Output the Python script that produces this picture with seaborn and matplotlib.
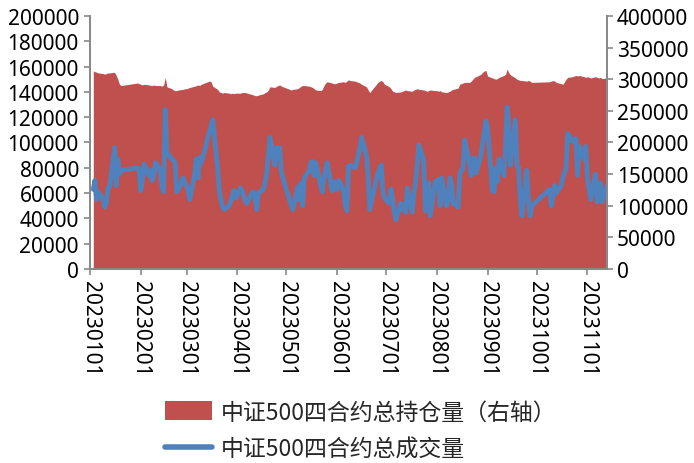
import pandas as pd
import matplotlib
matplotlib.use("Agg")
import matplotlib.pyplot as plt
from matplotlib.patches import Patch
from matplotlib.lines import Line2D
from matplotlib.ticker import MultipleLocator, StrMethodFormatter
import seaborn as sns

# Exchange holidays (weekdays with no trading) in the covered period
holidays = [
    "2023-01-02", "2023-01-23", "2023-01-24", "2023-01-25", "2023-01-26", "2023-01-27",
    "2023-04-05", "2023-05-01", "2023-05-02", "2023-05-03",
    "2023-06-22", "2023-06-23",
    "2023-09-29", "2023-10-02", "2023-10-03", "2023-10-04", "2023-10-05", "2023-10-06",
]
first_day, last_day = "2023-01-03", "2023-11-13"

# Daily total volume of the four CSI 500 futures contracts (left axis), one row per month
volume = [
    63000, 70000, 55000, 61000, 55000, 49000, 52000, 64000, 65000, 96000, 66000, 87000, 75000, 78000, 80000, 79000,
    62000, 70000, 83000, 74000, 78000, 70000, 74000, 84000, 78000, 65000, 61000, 126000, 92000, 87000, 86000, 84000, 61000, 63000, 72000, 68000,
    66000, 62000, 55000, 75000, 87000, 72000, 88000, 84000, 98000, 104000, 108000, 113000, 118000, 80000, 62000, 55000, 49000, 47000, 50000, 54000, 58000, 62000, 56000,
    64000, 62000, 53000, 52000, 60000, 61000, 55000, 47000, 60000, 63000, 68000, 76000, 89000, 104000, 82000, 96000, 94000, 96000, 76000,
    50000, 47000, 65000, 55000, 68000, 50000, 72000, 78000, 84000, 85000, 74000, 84000, 66000, 61000, 72000, 78000, 84000, 62000, 69000, 63000,
    63000, 70000, 62000, 50000, 46000, 81000, 82000, 80000, 84000, 90000, 95000, 104000, 90000, 74000, 47000, 76000, 79000, 82000, 62000, 56000,
    52000, 63000, 55000, 45000, 39000, 52000, 50000, 46000, 45000, 64000, 45000, 60000, 68000, 82000, 98000, 86000, 46000, 50000, 68000, 42000, 69000,
    69000, 71000, 50000, 72000, 50000, 55000, 72000, 66000, 52000, 49000, 75000, 78000, 79000, 102000, 84000, 74000, 87000, 88000, 76000, 90000, 100000, 108000, 117000,
    112000, 62000, 61000, 80000, 69000, 87000, 74000, 98000, 128000, 113000, 82000, 118000, 82000, 80000, 55000, 42000, 78000, 55000, 42000, 50000,
    63000, 50000, 58000, 66000, 60000, 66000, 72000, 76000, 80000, 107000, 101000, 102000, 103000, 74000, 97000, 87000, 97000,
    74000, 64000, 55000, 75000, 53000, 60000, 68000, 53000, 66000,
]

# Daily total open interest of the four contracts (right axis), one row per month
open_interest = [
    313000, 312000, 311000, 310000, 309000, 308000, 309000, 310000, 310000, 311000, 306000, 300000, 292000, 290000, 294000, 293000,
    292000, 291000, 292000, 291000, 290000, 290000, 291000, 290000, 290000, 289000, 291000, 303000, 288000, 285000, 283000, 282000, 282000, 283000, 284000, 285000,
    285000, 286000, 287000, 289000, 290000, 291000, 290000, 292000, 295000, 296000, 297000, 296000, 289000, 284000, 280000, 279000, 278000, 279000, 278000, 277000, 278000, 277000, 278000,
    278000, 279000, 279000, 278000, 276000, 275000, 274000, 274000, 275000, 277000, 279000, 280000, 283000, 288000, 287000, 289000, 290000, 291000, 289000,
    283000, 284000, 285000, 287000, 289000, 290000, 290000, 289000, 288000, 287000, 285000, 283000, 282000, 284000, 290000, 294000, 296000, 294000, 293000, 293000,
    294000, 295000, 296000, 295000, 297000, 299000, 298000, 297000, 296000, 295000, 294000, 292000, 288000, 283000, 279000, 295000, 297000, 298000, 296000, 292000,
    288000, 285000, 281000, 280000, 279000, 280000, 281000, 282000, 283000, 282000, 281000, 283000, 284000, 285000, 284000, 283000, 282000, 281000, 282000, 283000, 282000,
    282000, 281000, 282000, 280000, 279000, 280000, 281000, 283000, 284000, 286000, 292000, 293000, 294000, 295000, 295000, 297000, 300000, 303000, 304000, 308000, 311000, 313000, 314000,
    305000, 302000, 301000, 300000, 301000, 303000, 306000, 308000, 316000, 310000, 307000, 302000, 300000, 299000, 298000, 298000, 297000, 298000, 297000, 295000,
    296000, 297000, 298000, 297000, 295000, 293000, 292000, 296000, 300000, 303000, 304000, 305000, 306000, 305000, 306000, 304000, 303000,
    304000, 303000, 302000, 304000, 303000, 302000, 303000, 301000, 302000,
]

month_labels = ["20230101", "20230201", "20230301", "20230401", "20230501", "20230601",
                "20230701", "20230801", "20230901", "20231001", "20231101"]
oi_name = "中证500四合约总持仓量（右轴）"
vol_name = "中证500四合约总成交量"

RED = "#C0504D"
BLUE = "#4F81BD"
GREY = "#898989"

trading_days = pd.bdate_range(first_day, last_day, freq="C", holidays=holidays)
df = pd.DataFrame({"date": trading_days, "volume": volume, "open_interest": open_interest})

sns.set_theme(style="white")
plt.rcParams["font.family"] = ["Noto Sans", "Noto Sans CJK SC", "DejaVu Sans"]

fig = plt.figure(figsize=(6.94, 4.64), dpi=100)
ax = fig.add_axes([0.1297, 0.4181, 0.7449, 0.5453])
ax2 = ax.twinx()

# open interest as a filled area on the right axis
ax2.fill_between(df["date"], df["open_interest"], color=RED, lw=0)

# volume line on the left axis, drawn above the area
sns.lineplot(data=df, x="date", y="volume", ax=ax, color=BLUE, lw=3.5, legend=False)
ax.set_zorder(ax2.get_zorder() + 1)
ax.patch.set_visible(False)

ax.set_xlim(pd.Timestamp("2023-01-01"), pd.Timestamp(last_day))
ax.set_ylim(0, 200000)
ax2.set_ylim(0, 400000)
ax.yaxis.set_major_locator(MultipleLocator(20000))
ax2.yaxis.set_major_locator(MultipleLocator(50000))
ax.yaxis.set_major_formatter(StrMethodFormatter("{x:.0f}"))
ax2.yaxis.set_major_formatter(StrMethodFormatter("{x:.0f}"))

ax.set_xticks(pd.to_datetime(month_labels, format="%Y%m%d"))
ax.set_xticklabels(month_labels, rotation=-90, va="top", ha="center")
ax.set_xlabel("")
ax.set_ylabel("")
ax2.set_ylabel("")

for a in (ax, ax2):
    a.spines["top"].set_visible(False)
    for s in ("left", "right", "bottom"):
        a.spines[s].set_color(GREY)
        a.spines[s].set_linewidth(1.3)
    a.grid(False)

ax.tick_params(axis="both", which="major", direction="out", length=4, width=1.2,
               color=GREY, labelsize=15, labelcolor="black", pad=4,
               left=True, bottom=True, right=False)
ax2.tick_params(axis="y", which="major", direction="out", length=4, width=1.2,
                color=GREY, labelsize=15, labelcolor="black", pad=3,
                right=True, left=False)

handles = [Patch(facecolor=RED, edgecolor="none"),
           Line2D([], [], color=BLUE, lw=4)]
fig.legend(handles, [oi_name, vol_name], loc="upper left",
           bbox_to_anchor=(0.238, 0.135), frameon=False,
           prop={"family": ["Noto Sans CJK SC", "DejaVu Sans"], "size": 16.5},
           handlelength=2.05, handleheight=0.9, handletextpad=0.4,
           labelspacing=0.62, borderpad=0, borderaxespad=0)

fig.savefig("out.png", dpi=100, facecolor="white")
